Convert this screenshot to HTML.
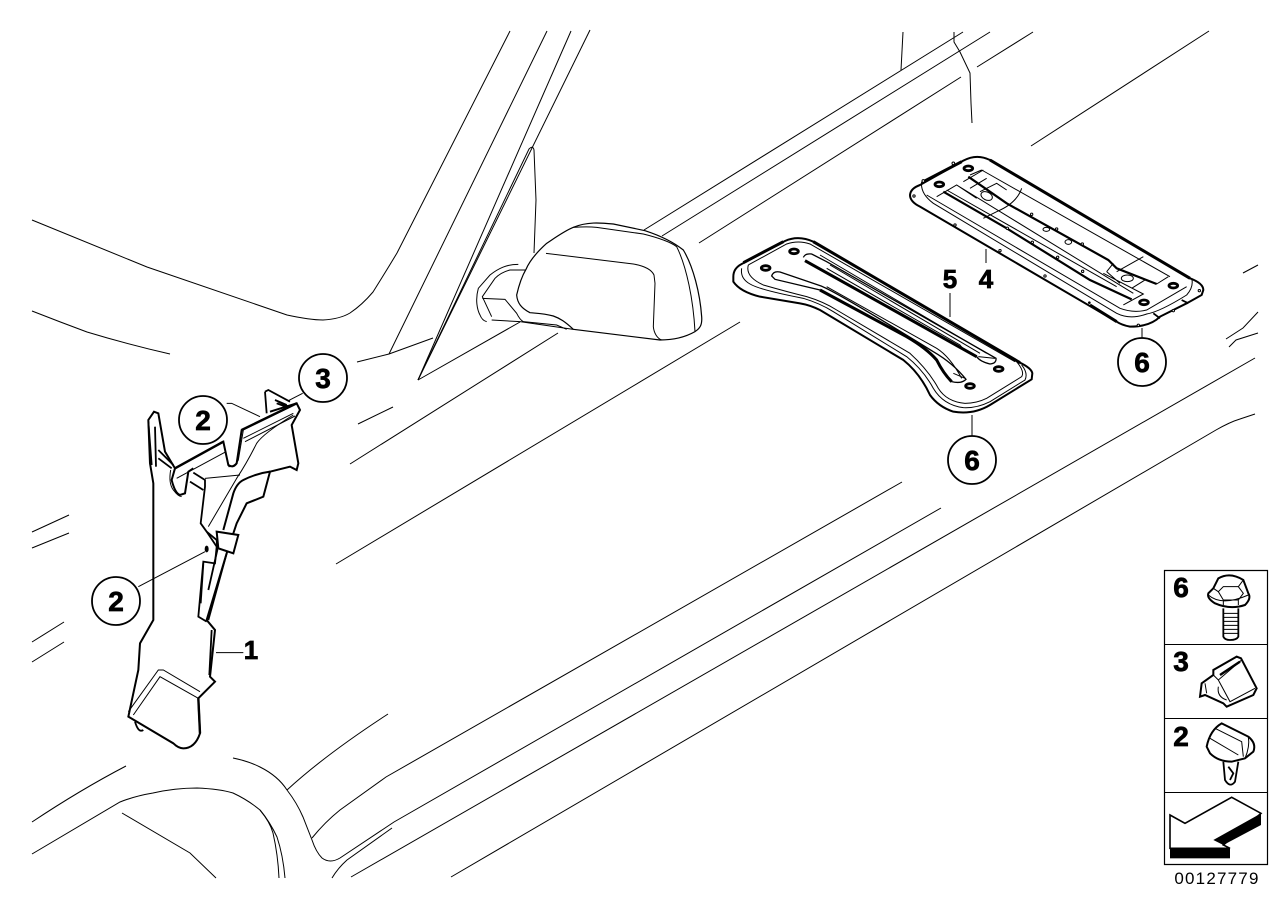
<!DOCTYPE html>
<html><head><meta charset="utf-8"><style>
html,body{margin:0;padding:0;background:#fff;width:1287px;height:910px;overflow:hidden}
svg{display:block}
path,line,circle,ellipse,rect,polygon{vector-effect:non-scaling-stroke}
text{font-family:"Liberation Sans",sans-serif;font-weight:bold;fill:#000;stroke:#000;stroke-width:.7;text-anchor:middle}
.t{fill:none;stroke:#000;stroke-width:1}
.m{fill:none;stroke:#000;stroke-width:1.8}
.b{fill:none;stroke:#000;stroke-width:3}
.f{fill:#fff;stroke:#000;stroke-width:2}
.c{fill:#fff;stroke:#000;stroke-width:1.8}
.h{fill:#fff;stroke:#000;stroke-width:2.8}
.s{fill:#fff;stroke:#000;stroke-width:1}
</style></head><body>
<svg width="1287" height="910" viewBox="0 0 1287 910" xmlns="http://www.w3.org/2000/svg">
<rect width="1287" height="910" fill="#fff"/>
<!-- background -->
<g>
<path class="t" d="M32 220 L147 267 L287 315 Q310 320 323 320 Q340 319 350 313 Q362 305 373 292 Q385 273 397 253 L510 31"/>
<path class="t" d="M32 311 Q60 322 87 332 Q130 345 170 354"/>
<path class="t" d="M357 362 L389 354 L433 338"/>
<path class="t" d="M389 354 L547 31"/>
<path class="t" d="M418 380 L571 31"/>
<path class="t" d="M418 380 L590 30"/>
<path class="t" d="M418 380 L529 149 Q533 145 534 150 L536 200 L534 253"/>
<path class="t" d="M418 380 L520 322"/>
<path class="t" d="M350 464 L558 333"/>
<path class="t" d="M358 424 L393 407"/>
<path class="t" d="M336 564 L740 322"/>
<path class="t" d="M644 230 L963 32"/>
<path class="t" d="M662 236 L990 32"/>
<path class="t" d="M699 243 L961 77"/>
<path class="t" d="M977 67 L1033 32"/>
<path class="t" d="M1031 146 L1209 31"/>
<path class="t" d="M903 32 L901 70"/>
<path class="t" d="M954 32 L954 42 L960 52 L970 73 L971 103 L972 123"/>
<path class="t" d="M312 838 Q325 822 340 810 L386 777 L902 482"/>
<path class="t" d="M233 758 Q248 761 260 767 Q278 776 287 790 Q297 803 303 817 L312 840 Q316 852 322 858 Q330 864 340 858 L394 822 L941 508"/>
<path class="t" d="M287 790 Q325 755 388 714"/>
<path class="t" d="M332 878 Q338 868 347 860 L392 828"/>
<path class="t" d="M351 877 L1255 358"/>
<path class="t" d="M451 877 L1216 430 Q1230 422 1240 419 L1255 414"/>
<path class="t" d="M32 822 Q80 790 126 766"/>
<path class="t" d="M32 854 L120 802 Q135 796 153 793 Q175 788 197 788 Q220 789 233 793 Q248 800 260 810 Q270 822 277 837 Q283 855 285 878"/>
<path class="t" d="M260 810 Q270 822 273 833 Q278 855 279 878"/>
<path class="t" d="M122 813 L190 853 L216 878"/>
<path class="t" d="M32 532 L69 515"/>
<path class="t" d="M32 548 L69 533"/>
<path class="t" d="M32 642 L64 622"/>
<path class="t" d="M32 662 L64 642"/>
<path class="t" d="M1243 273 L1258 265"/>
<path class="t" d="M1226 339 L1243 328 L1258 312"/>
<path class="t" d="M1229 347 L1236 340 L1258 333"/>
</g>
<!-- mirror, zoom coordinates -->
<g transform="translate(400,140) scale(.33333)">
<path class="f" d="M350 465 C358 430 365 410 378 388 C392 355 420 328 440 310 C470 290 495 272 520 262 C560 245 600 248 640 252 L735 272 C790 290 825 310 850 330 C880 380 900 460 905 530 C907 555 900 565 885 575 C850 595 815 600 780 600 L520 568 C495 545 480 535 460 528 C430 520 410 520 390 518 C365 505 352 490 350 465Z" style="stroke-width:1.2"/>
<path class="t" d="M520 262 C550 260 570 260 590 262 L730 282 C770 292 810 305 830 320 C860 380 880 480 885 575"/>
<path class="t" d="M438 340 L700 372 C735 378 755 390 762 405 L765 430 L760 560 C762 580 772 595 785 600"/>
<path class="t" d="M378 390 L330 390 C310 395 295 405 285 415 L247 470 L275 530"/>
<path class="t" d="M247 475 L315 478 L350 520 Q360 540 370 545 L470 555 L500 568"/>
<path class="t" d="M275 540 L360 545 L520 568"/>
<path class="t" d="M355 373 C320 373 295 385 270 405 L235 445 C225 480 232 510 240 525 C245 538 252 543 260 545"/>
</g>
<!-- part 1, zoom coordinates -->
<g transform="translate(80,350) scale(.33333)">
<path class="f" d="M145 1100 L175 960 L180 880 L220 810 L220 400 L210 340 L205 210 L222 185 L235 190 L255 305 L285 355 L430 275 L445 345 Q460 355 470 340 L485 240 L650 160 L660 180 L635 225 L655 340 L650 360 L630 350 L570 365 L550 440 L500 460 L470 520 L440 610 L380 810 L405 840 L390 980 L405 995 L355 1045 L360 1150 Q345 1195 310 1195 Q295 1195 280 1180 Z"/>
<path class="b" d="M205 215 L215 345 M225 230 L228 350" style="stroke-width:1.8"/>
<path class="m" d="M235 300 L280 345 M235 325 L275 355"/>
<path class="b" d="M285 355 L430 275 M485 240 L650 160 M355 1045 L360 1150" style="stroke-width:2.4"/>
<path class="m" d="M555 125 L565 120 L630 155 M555 125 L560 190 M590 160 L622 172 M585 150 L620 165"/>
<path class="b" d="M570 185 L650 160 M595 155 L625 170" style="stroke-width:2"/>
<path class="t" d="M490 265 L640 190 M495 275 L645 198 M290 385 L438 305 M490 240 L475 330 Q465 350 445 350"/>
<path class="f" d="M285 355 L275 390 Q285 430 300 435 L315 430 L325 365 L340 355" style="fill:none"/>
<path class="t" d="M272 360 Q265 400 280 420 Q295 440 305 440"/>
<path class="m" d="M340 368 L375 390 L375 410 L362 520 L380 545 L410 590 L405 640 L370 635 L355 800 L380 815"/>
<path class="m" d="M330 395 L370 420"/>
<path class="t" d="M375 385 L480 375"/>
<path class="t" d="M385 530 L470 385 Q500 340 530 280 Q550 250 640 195"/>
<path class="f" d="M430 540 L460 430 Q470 400 490 390 Q530 370 570 365" style="fill:none"/>
<path class="m" d="M380 545 L410 570 L412 600 L385 720"/>
<path class="m" d="M370 640 L362 760"/>
<path class="f" d="M410 545 L475 555 L460 610 L415 595Z"/>
<path class="m" d="M440 610 L385 810"/>
<path class="m" d="M395 840 L388 975"/>
<path class="t" d="M145 1085 L235 960 L250 960 L360 1025"/>
<path class="t" d="M160 1095 L240 980 L355 1045"/>
<path class="m" d="M165 1115 Q175 1150 190 1140"/>
<ellipse cx="380" cy="597" rx="6" ry="10" fill="#000"/>
<path class="t" d="M175 710 L375 605"/>
<path class="t" d="M440 160 L455 160 L540 200"/>
<path class="t" d="M625 152 L668 130"/>
<path class="t" d="M408 908 L490 908"/>
</g>
<!-- panel 5 and 4, zoom coordinates -->
<g transform="translate(720,140) scale(.33333)">
<path class="f" d="M40 410 Q40 385 65 372 L195 303 Q235 285 280 305 L900 668 Q935 685 937 700 L935 718 L810 795 Q760 825 700 815 Q655 800 630 765 Q600 700 550 660 L300 510 Q270 495 240 490 L120 470 Q60 455 40 425Z"/>
<path class="b" d="M280 305 L900 668 M70 368 L190 305"/>
<path class="t" d="M65 385 Q60 415 90 432 Q120 450 250 475 Q300 490 340 515 L560 650 Q610 690 640 745 Q670 795 730 803 Q770 805 810 785 L915 720 Q925 700 905 675"/>
<path class="t" d="M85 375 Q75 410 130 435 Q200 455 260 470 Q310 485 350 510 L570 640 Q625 690 655 745 Q680 785 735 790 Q770 790 800 775 L905 710 Q915 695 890 665"/>
<path class="t" d="M85 375 L200 312 Q235 300 270 312 L885 665"/>
<path class="m" d="M250 352 Q255 340 275 342 L320 365 L828 655 Q830 670 810 672 Q780 665 770 650" style="stroke-width:1.3"/>
<path class="b" d="M255 362 L770 650"/>
<path class="m" d="M155 408 Q160 392 180 396 L300 437 Q340 450 640 635 Q700 670 738 718 Q725 732 695 725 Q680 715 650 660 Q620 625 560 590 L300 450 L165 418Z" style="stroke-width:1.3"/>
<path class="b" d="M300 450 L560 590 Q620 625 650 660 Q670 700 695 725"/>
<path class="t" d="M320 385 L720 615 Q730 630 770 650 M300 345 L800 640 M330 375 L780 640 M320 440 L650 625 Q690 650 725 715 M700 700 L735 715 M775 650 L825 655"/>
<ellipse class="h" cx="222" cy="334" rx="13" ry="7"/><ellipse class="h" cx="137" cy="384" rx="13" ry="7"/><ellipse class="h" cx="836" cy="687" rx="13" ry="7"/><ellipse class="h" cx="750" cy="738" rx="13" ry="7"/>

<path class="f" d="M570 165 Q572 145 600 135 L730 62 Q770 40 810 60 L1410 415 Q1450 430 1450 450 L1445 465 L1400 490 L1320 530 Q1290 560 1230 560 Q1205 555 1190 545 L600 200 Q570 185 570 165Z"/>
<path class="b" d="M810 60 L1410 415 M610 125 L725 65 M1190 545 L1110 495"/>
<path class="t" d="M605 125 Q600 160 640 190 L1190 520 Q1230 540 1280 522 Q1320 515 1400 465 Q1422 440 1415 415"/>
<path class="t" d="M620 165 L1200 505 Q1240 520 1280 510 L1400 440"/>
<path class="m" d="M1300 520 L1320 535 M1385 480 L1405 490"/>
<path class="b" d="M670 155 L860 265 L1110 420 L1235 478" style="stroke-width:2.2"/>
<path class="b" d="M745 110 L860 190 L1165 360 L1190 385 L1310 432" style="stroke-width:2.2"/>
<path class="t" d="M650 170 L710 135 L770 175 M680 150 L1190 440 M710 135 L1240 460 M785 90 L1350 410 M785 90 L750 105 M905 145 Q890 190 830 215 L790 235 M730 125 L790 90 M780 155 L830 130 L860 150 M750 145 L800 115 M1160 395 L1180 370 M1160 395 L1200 430 M1190 395 L1270 350 M1210 495 L1270 462 L1150 400 M1235 445 L1275 420 M1310 432 L1345 410"/>
<ellipse class="s" cx="800" cy="168" rx="18" ry="12" transform="rotate(25 800 168)"/>
<ellipse class="s" cx="1222" cy="415" rx="18" ry="10"/>
<ellipse class="s" cx="979" cy="268" rx="10" ry="6"/><ellipse class="s" cx="1045" cy="306" rx="10" ry="7"/>
<circle class="s" cx="862" cy="265" r="3.5"/><circle class="s" cx="937" cy="307" r="3.5"/><circle class="s" cx="1013" cy="352" r="3.5"/><circle class="s" cx="1088" cy="394" r="3.5"/><circle class="s" cx="935" cy="223" r="3.5"/><circle class="s" cx="1010" cy="267" r="3.5"/><circle class="s" cx="1087" cy="312" r="3.5"/><circle class="s" cx="705" cy="255" r="3.5"/><circle class="s" cx="840" cy="332" r="3.5"/><circle class="s" cx="975" cy="408" r="3.5"/><circle cx="1108" cy="488" r="4" fill="#000"/><circle class="s" cx="1255" cy="556" r="3.5"/><circle class="s" cx="1360" cy="512" r="3.5"/><circle class="s" cx="1438" cy="452" r="3.5"/><circle class="s" cx="582" cy="168" r="3.5"/><circle class="s" cx="610" cy="123" r="4"/><circle class="s" cx="700" cy="70" r="4"/>
<ellipse class="h" cx="745" cy="85" rx="13" ry="7"/><ellipse class="h" cx="658" cy="133" rx="13" ry="7"/><ellipse class="h" cx="1360" cy="437" rx="13" ry="7"/><ellipse class="h" cx="1272" cy="487" rx="13" ry="7"/>
</g>
<!-- leaders -->
<path class="t" d="M986 249 L986 263 M950 293 L950 317 M972 415 L972 437 M1142 328 L1142 338"/>
<!-- callouts -->
<circle class="c" cx="323" cy="378" r="24"/><text x="323" y="388" font-size="28">3</text>
<circle class="c" cx="203" cy="420" r="24"/><text x="203" y="430" font-size="28">2</text>
<circle class="c" cx="116" cy="601" r="24"/><text x="116" y="611" font-size="28">2</text>
<circle class="c" cx="972" cy="460" r="24"/><text x="972" y="470" font-size="28">6</text>
<circle class="c" cx="1142" cy="362" r="24"/><text x="1142" y="372" font-size="28">6</text>
<text x="251" y="659" font-size="26">1</text>
<text x="950" y="288" font-size="26">5</text>
<text x="986" y="288" font-size="26">4</text>
<!-- legend -->
<rect x="1164.5" y="570.5" width="103" height="294" fill="#fff" stroke="#000" stroke-width="1.2"/>
<path class="t" d="M1164 644.5 H1268 M1164 718.5 H1268 M1164 792.5 H1268"/>
<text x="1181" y="597" font-size="28">6</text>
<text x="1181" y="671" font-size="28">3</text>
<text x="1181" y="746" font-size="28">2</text>
<g transform="translate(1155,560) scale(.33333)">
<path class="m" d="M205 145 L205 230 Q210 240 225 240 Q245 240 250 230 L250 145" />
<path class="t" d="M205 160 L250 160 M205 172 L250 172 M205 184 L250 184 M205 196 L250 196 M205 208 L250 208 M205 220 L250 220"/>
<path class="f" d="M175 85 L190 55 Q225 35 265 60 L280 100 Q290 115 270 135 Q225 150 180 130 Q155 115 160 100Z"/>
<path class="t" d="M190 95 L205 80 L250 80 L265 100 L250 120 L205 120Z M175 85 L190 95 M265 60 L250 80 M205 120 L205 135 M250 120 L250 135 M160 105 Q200 140 280 105"/>
<path class="f" d="M140 370 L175 345 L175 330 L245 290 L258 295 L305 385 L295 405 L215 440 L205 430 L150 405 L135 410Z"/>
<path class="t" d="M175 345 L190 360 L260 300 M190 360 L225 425 L300 385 M190 380 Q185 410 215 420 M150 370 L155 400"/>
<path class="b" d="M195 345 L255 305" style="stroke-width:2.4"/>
<path class="m" d="M205 605 L210 660 Q225 685 240 665 L250 605 M220 620 L235 640 L225 660"/>
<path class="f" d="M155 560 Q165 510 200 490 L280 530 Q305 550 295 575 L270 595 L230 605 Q190 605 165 580Z"/>
<path class="t" d="M180 505 L260 545 L265 590 M165 535 L250 585 M280 530 Q285 560 270 595"/>
<polygon points="45,765 90,790 230,712 318,760 205,855 225,865 45,865" fill="#fff" stroke="#000" stroke-width="1.6"/>
<polygon points="318,760 318,795 205,855 175,840" fill="#000"/>
<rect x="45" y="865" width="180" height="30" fill="#000"/>
</g>
<text x="1217" y="884" font-size="17" style="font-weight:normal;letter-spacing:1.2px;stroke:none">00127779</text>
</svg>
</body></html>
